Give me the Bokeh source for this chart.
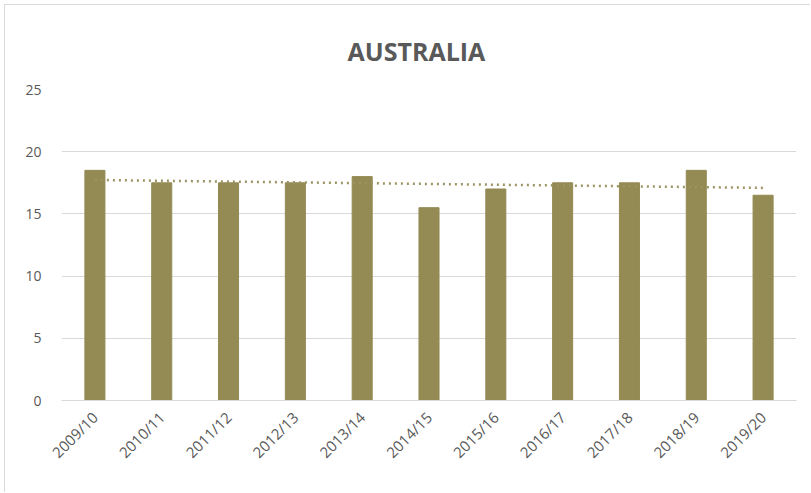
import numpy as np
from bokeh.plotting import figure
from bokeh.models import FactorRange, Range1d, ColumnDataSource, FixedTicker
from bokeh.embed import file_html
from bokeh.resources import INLINE

years = ["2009/10", "2010/11", "2011/12", "2012/13", "2013/14", "2014/15",
         "2015/16", "2016/17", "2017/18", "2018/19", "2019/20"]
values = [18.5, 17.5, 17.5, 17.5, 18.0, 15.5, 17.0, 17.5, 17.5, 18.5, 16.5]
y_ticks = [0, 5, 10, 15, 20, 25]

# linear trendline (least squares, as Excel computes)
idx = np.arange(len(values))
slope, intercept = np.polyfit(idx, values, 1)
trend = list(slope * idx + intercept)

bar_color = "#948A54"
text_color = "#595959"
grid_color = "#D9D9D9"

p = figure(x_range=FactorRange(*years), y_range=Range1d(0, 25),
           width=806, height=488, output_backend="svg", toolbar_location=None,
           min_border_left=56, min_border_right=15, min_border_top=84,
           min_border_bottom=93)
p.styles = {"border-left": "1px solid #D9D9D9", "border-top": "1px solid #D9D9D9",
            "margin-left": "4px", "margin-top": "4px"}

p.title.text = "AUSTRALIA"
p.title.align = "left"
p.title.text_font = "Open Sans"
p.title.text_font_size = "25px"
p.title.text_font_style = "bold"
p.title.text_color = text_color
p.title.standoff = 43
p.title.offset = 286

src = ColumnDataSource(dict(x=years, top=values, trend=trend))
p.vbar(x="x", top="top", width=0.3, source=src, color=bar_color)
p.line(x="x", y="trend", source=src, line_color="#9C9464", line_width=2.5,
       line_dash="dotted")

p.outline_line_color = None
p.xgrid.grid_line_color = None
p.ygrid.grid_line_color = grid_color
p.yaxis.ticker = FixedTicker(ticks=y_ticks)
p.yaxis.axis_line_color = None
p.yaxis.major_tick_line_color = None
p.yaxis.minor_tick_line_color = None
p.yaxis.major_label_standoff = 14
p.xaxis.axis_line_color = grid_color
p.xaxis.major_tick_line_color = None
p.xaxis.major_label_orientation = np.pi / 4
p.xaxis.major_label_standoff = 8
for ax in (p.xaxis, p.yaxis):
    ax.major_label_text_font = "Open Sans"
    ax.major_label_text_color = text_color
p.yaxis.major_label_text_font_size = "14px"
p.xaxis.major_label_text_font_size = "15px"

open("out.html", "w").write(file_html(p, INLINE))
